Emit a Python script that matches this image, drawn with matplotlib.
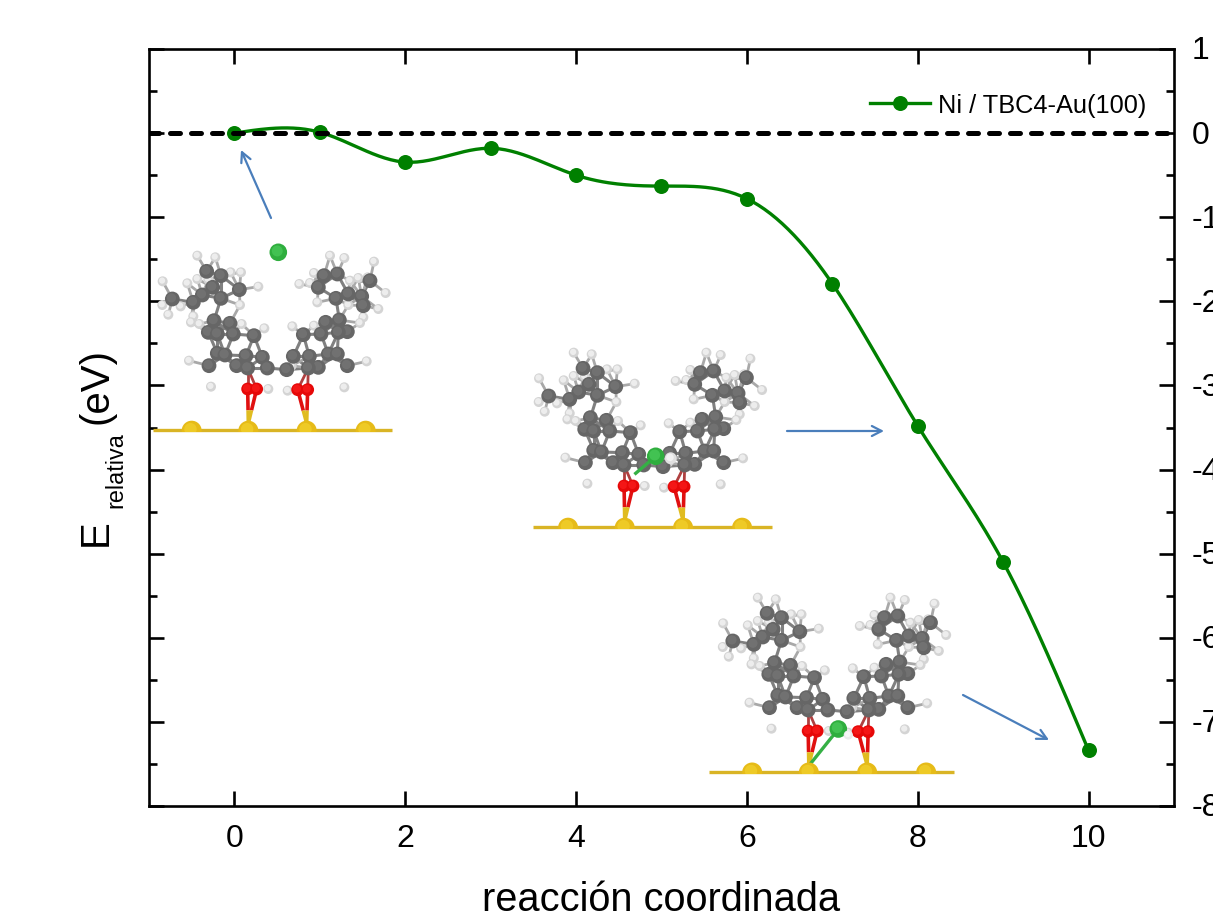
import numpy as np
import matplotlib
matplotlib.use("Agg")
import matplotlib.pyplot as plt
from matplotlib.patches import Circle, Rectangle, FancyArrowPatch

plt.rcParams['font.family'] = ['Liberation Sans', 'DejaVu Sans']

# ---- chart data ----
reaction_coord = [0, 1, 2, 3, 4, 5, 6, 7, 8, 9, 10]
e_relative = [0.0, 0.01, -0.345, -0.18, -0.50, -0.63, -0.78, -1.79, -3.48, -5.10, -7.34]
series_name = "Ni / TBC4-Au(100)"
x_ticks = [0, 2, 4, 6, 8, 10]
y_ticks = [1, 0, -1, -2, -3, -4, -5, -6, -7, -8]

# ---- molecule template (pixels of the first inset, scaled 3x) ----
carbon = [(97,240),(160,250),(187,228),(243,238),(298,212),(243,170),(218,205),(200,157),
          (222,305),(270,313),(205,340),(232,345),(280,345),(342,350),
          (232,403),(255,408),(318,410),(367,415),(207,440),(290,440),(323,447),(382,447),
          (440,452),(460,412),(490,347),(508,412),(505,447),(535,445),(543,345),(557,310),
          (598,303),(595,340),(622,338),(565,405),(592,405),(622,440),
          (535,205),(552,170),(592,165),(588,238),(625,225),(665,232),(690,185),(670,260)]
hydrogen = [(172,110),(226,115),(68,187),(142,193),(67,258),(85,287),(122,262),(160,292),
            (153,310),(178,315),(205,182),(172,180),(272,160),(303,160),(355,203),(300,258),
            (305,315),(373,328),(147,425),(213,503),(385,510),(443,515),(455,440),(457,322),
            (522,320),(570,110),(613,117),(702,128),(478,195),(510,192),(522,162),(532,250),
            (630,185),(655,177),(683,175),(737,222),(715,270),(625,258),(670,295),(660,312),
            (680,427),(613,505)]
oxygen = [(323,510),(350,510),(473,512),(503,512)]
gold = [(155,627),(325,625),(500,625),(677,625)]
oxygen_carbon = [(0,(323,447)),(1,(323,447)),(2,(505,447)),(3,(505,447))]
oxygen_gold = [(0,1),(1,1),(2,2),(3,2)]
inset_offsets = [(0.0, 0.0), (376.4, 97.0), (560.5, 342.0)]
surfaces = [(152.7, 391.7, 430.7), (532.7, 771.7, 527.7), (709.0, 954.0, 772.5)]
nickel_positions = [(278.3, 253.3), (655.7, 457.3), (838.3, 730.0)]
arrows = [((271, 219), (241, 151)), ((787, 432), (884, 432)), ((963, 696), (1049, 741))]


def natural_spline(x, y, n=30):
    """Smooth curve through the data points, like the original's spline line."""
    x, y = np.asarray(x, float), np.asarray(y, float)
    h = np.diff(x)
    m = len(x)
    A, b = np.zeros((m, m)), np.zeros(m)
    A[0, 0] = A[-1, -1] = 1
    for i in range(1, m - 1):
        A[i, i - 1], A[i, i], A[i, i + 1] = h[i - 1], 2 * (h[i - 1] + h[i]), h[i]
        b[i] = 6 * ((y[i + 1] - y[i]) / h[i] - (y[i] - y[i - 1]) / h[i - 1])
    M = np.linalg.solve(A, b)
    xs, ys = [], []
    for i in range(m - 1):
        t = np.linspace(x[i], x[i + 1], n)
        a, c = (x[i + 1] - t) / h[i], (t - x[i]) / h[i]
        ys.append(a * y[i] + c * y[i + 1] + ((a**3 - a) * M[i] + (c**3 - c) * M[i + 1]) * h[i]**2 / 6)
        xs.append(t)
    return np.concatenate(xs), np.concatenate(ys)


W, H = 1213, 920
fig = plt.figure(figsize=(W / 100, H / 100), dpi=100, facecolor='white')
ax = fig.add_axes([149 / W, 1 - 807 / H, (1174 - 149) / W, (807 - 50) / H])
ax.set_xlim(-1, 11)
ax.set_ylim(-8, 1)
for s in ax.spines.values():
    s.set_linewidth(1.9)

sx, sy = natural_spline(reaction_coord, e_relative)
ax.plot(sx, sy, color='#008000', lw=2.4, zorder=3)
ax.plot(reaction_coord, e_relative, 'o', color='#008000', ms=10.8, mew=0, zorder=3)
ax.axhline(0, color='black', lw=3.6, dashes=(2.0, 2.2), dash_capstyle='round', zorder=4)

handle, = ax.plot([], [], '-o', color='#008000', lw=2.4, ms=10.8, mew=0, label=series_name)
ax.legend(handles=[handle], loc='center left', frameon=False, fontsize=18.3,
          bbox_to_anchor=(870 / W, 1 - 106 / H), bbox_transform=fig.transFigure,
          borderaxespad=0, borderpad=0, handlelength=2.36, handletextpad=0.3)

ax.set_xticks(x_ticks)
ax.set_yticks(y_ticks)
ax.set_yticks(np.arange(-7.5, 1, 1), minor=True)
ax.tick_params(axis='x', which='major', direction='in', length=11, width=1.9, top=True,
               labelsize=23, pad=12)
ax.tick_params(axis='y', which='major', direction='in', length=11, width=1.9, left=True, right=True,
               labelleft=False, labelright=False)
ax.tick_params(axis='y', which='minor', direction='in', length=5.8, width=1.9, left=True, right=True)

for v in y_ticks:
    ax.annotate(str(v), xy=(1, v), xycoords=('axes fraction', 'data'), xytext=(12.5, -1),
                textcoords='offset points', ha='left', va='center', fontsize=23,
                annotation_clip=False)

fig.text(661 / W, 1 - 900 / H, "reacción coordinada", fontsize=28.6, ha='center', va='center')
for txt, px, py, fs in [("E", 107, 546, 29), ("relativa", 122, 508, 16.8), ("(eV)", 107, 424, 29)]:
    fig.text(px / W, 1 - py / H, txt, fontsize=fs, rotation=90, rotation_mode='anchor',
             ha='left', va='baseline')

# ---- molecule overlay in pixel coordinates ----
ov = fig.add_axes([0, 0, 1, 1], facecolor='none')
ov.set_xlim(0, W)
ov.set_ylim(H, 0)
ov.axis('off')


def atom(x, y, r, col, hi, z, clip=None):
    c = Circle((x, y), r, fc=col, ec='none', zorder=z)
    d = Circle((x - r * 0.12, y - r * 0.15), r * 0.62, fc=hi, ec='none', alpha=0.6, zorder=z)
    ov.add_patch(c)
    ov.add_patch(d)
    if clip is not None:
        c.set_clip_path(clip)
        d.set_clip_path(clip)


def tr(p, off):
    return 140 + p[0] / 3 + off[0], 220 + p[1] / 3 + off[1]


for k, off in enumerate(inset_offsets):
    C = [tr(p, off) for p in carbon]
    Hy = [tr(p, off) for p in hydrogen]
    O = [tr(p, off) for p in oxygen]
    Au = [tr(p, off) for p in gold]
    x0, x1, y0 = surfaces[k]
    # bonds by distance
    for i, a in enumerate(C):
        for b in C[i + 1:]:
            if np.hypot(a[0] - b[0], a[1] - b[1]) < 24:
                ov.plot([a[0], b[0]], [a[1], b[1]], color='#808080', lw=2.2, zorder=2)
        for b in Hy:
            if np.hypot(a[0] - b[0], a[1] - b[1]) < 21:
                ov.plot([a[0], b[0]], [a[1], b[1]], color='#a8a8a8', lw=2.0, zorder=2)
    for i, p in oxygen_carbon:
        q = tr(p, off)
        ov.plot([O[i][0], q[0]], [O[i][1], q[1]], color='#b04040', lw=2.0, zorder=2)
    for i, j in oxygen_gold:
        ax_, ay_ = O[i]
        bx_, by_ = Au[j]
        my_ = ay_ + 0.62 * (by_ - 4 - ay_)
        mx_ = ax_ + 0.62 * (bx_ - ax_)
        ov.plot([ax_, mx_], [ay_, my_], color='#e01010', lw=2.6, zorder=2, solid_capstyle='butt')
        ov.plot([mx_, bx_], [my_, by_ - 4], color='#e0bc20', lw=2.6, zorder=2, solid_capstyle='butt')
    # surface
    ov.plot([x0, x1], [y0, y0], color='#d9b425', lw=2.4, zorder=3, solid_capstyle='butt')
    clip = Rectangle((x0, y0 - 30), x1 - x0, 32.5, transform=ov.transData)
    for p in Au:
        atom(p[0], y0 + 1, 10, '#e6bb18', '#f5d530', 4, clip)
    for p in Hy:
        atom(p[0], p[1], 5.0, '#d4d4d4', '#ffffff', 5)
    for p in sorted(C, key=lambda q: q[1]):
        atom(p[0], p[1], 7.4, '#666666', '#7a7a7a', 6)
    for p in O:
        atom(p[0], p[1], 6.4, '#e60808', '#ff2020', 7)
    nx, ny = nickel_positions[k]
    if k == 1:
        ov.plot([nx, nx - 20], [ny, ny + 17], color='#35b045', lw=2.4, zorder=7)
    if k == 2:
        ov.plot([nx, Au[1][0] + 2], [ny, Au[1][1] - 6], color='#35b045', lw=2.4, zorder=3.5)
    atom(nx, ny, 8.8, '#2fae3e', '#50d060', 8)
    if k == 1:
        atom(nx + 15, ny + 2, 6.0, '#e0e0e0', '#ffffff', 9)
    if k == 2:
        atom(nx + 10, ny + 6, 4.6, '#ececec', '#ffffff', 9)

for start, end in arrows:
    ov.add_patch(FancyArrowPatch(start, end, arrowstyle='->,head_length=7,head_width=3.6',
                                 color='#4a7ebb', lw=1.6, shrinkA=0, shrinkB=0, zorder=10))

fig.savefig('out.png', dpi=100, facecolor='white')
